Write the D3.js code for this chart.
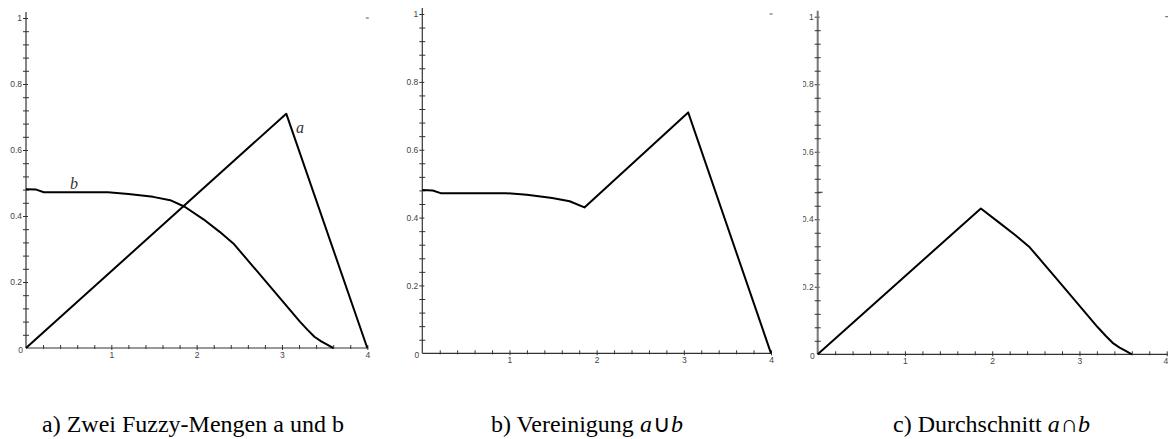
<!DOCTYPE html>
<html><head><meta charset="utf-8">
<script src="https://cdn.jsdelivr.net/npm/d3@7"></script>
<style>
body{margin:0;background:#fff;}
svg{display:block;}
</style>
</head><body>
<svg id="c" width="1168" height="439"></svg>
<script>
// ---- data ----
const yMajorTicks = [0.2, 0.4, 0.6, 0.8, 1];
const yMajorLabels = ["0.2", "0.4", "0.6", "0.8", "1"];
const xMajorTicks = [1, 2, 3, 4];
const xMajorLabels = ["1", "2", "3", "4"];
const yMinorTicks = [0.04,0.08,0.12,0.16,0.24,0.28,0.32,0.36,0.44,0.48,0.52,0.56,0.64,0.68,0.72,0.76,0.84,0.88,0.92,0.96];
const xMinorTicks = [0.2,0.4,0.6,0.8,1.2,1.4,1.6,1.8,2.2,2.4,2.6,2.8,3.2,3.4,3.6,3.8];

const aX = [0, 3.05, 4];
const aY = [0, 0.71, 0];
const bX = [0, 0.12, 0.21, 0.6, 0.96, 1.2, 1.49, 1.69, 1.86, 2.08, 2.27, 2.43, 2.8, 3.21, 3.3, 3.38, 3.46, 3.53, 3.6];
const bY = [0.481, 0.48, 0.472, 0.472, 0.472, 0.467, 0.458, 0.448, 0.428, 0.39, 0.352, 0.317, 0.205, 0.08, 0.055, 0.034, 0.02, 0.01, 0];
const unionX = [0, 0.12, 0.21, 0.6, 0.96, 1.2, 1.49, 1.69, 1.86, 3.05, 4];
const unionY = [0.481, 0.48, 0.472, 0.472, 0.472, 0.467, 0.458, 0.448, 0.43, 0.71, 0];
const interX = [0, 1.87, 2.08, 2.27, 2.43, 2.8, 3.21, 3.3, 3.38, 3.46, 3.53, 3.6];
const interY = [0, 0.432, 0.39, 0.352, 0.317, 0.205, 0.08, 0.055, 0.034, 0.02, 0.01, 0];

const captions = [
  [{t:"a) Zwei Fuzzy-Mengen a und b"}],
  [{t:"b) Vereinigung\u00A0"},{t:"a",i:true},{t:"\u222A"},{t:"b",i:true}],
  [{t:"c) Durchschnitt\u00A0"},{t:"a",i:true},{t:"\u2229"},{t:"b",i:true}]
];

// ---- layout ----
const panels = [
  {x0:26, x1:367.3, y0:348, y1:18, capX:42, axisCol:"#333", yAxisW:1.2,
   series:[{x:aX,y:aY},{x:bX,y:bY}], labels:[{t:"a",x:300,y:133},{t:"b",x:74,y:189}]},
  {x0:422.3, x1:771, y0:353.3, y1:14, capX:491, axisCol:"#333", yAxisW:1.2,
   series:[{x:unionX,y:unionY}], labels:[]},
  {x0:817.7, x1:1166.7, y0:354.3, y1:16.7, capX:893, axisCol:"#777", yAxisW:2,
   series:[{x:interX,y:interY}], labels:[], clipLeft:803, extraTick:0.48, lastEnd:true}
];

const svg = d3.select("#c");
const defs = svg.append("defs");

function styleTick(sel) {
  sel.attr("font-family","Liberation Sans").attr("font-size",8.5).attr("fill","#444");
}

panels.forEach((p, pi) => {
  const x = d3.scaleLinear().domain([0,4]).range([p.x0, p.x1]);
  const y = d3.scaleLinear().domain([0,1]).range([p.y0, p.y1]);
  const g = svg.append("g");
  let labG = g;
  if (p.clipLeft) {
    defs.append("clipPath").attr("id","clip"+pi).append("rect")
      .attr("x", p.clipLeft).attr("y", 0).attr("width", 1168).attr("height", 439);
    labG = g.append("g").attr("clip-path","url(#clip"+pi+")");
  }

  g.append("line").attr("x1", x(0)).attr("x2", x(0)).attr("y1", y(0)).attr("y2", y(1)-6)
    .attr("stroke", p.axisCol).attr("stroke-width", p.yAxisW);
  g.append("line").attr("x1", x(0)).attr("x2", x(4)+1).attr("y1", y(0)).attr("y2", y(0))
    .attr("stroke", "#333").attr("stroke-width", 1.2);

  const yMinor = d3.axisLeft(y).tickValues(yMinorTicks).tickSize(3).tickFormat("");
  const ym = g.append("g").attr("transform", `translate(${x(0)},0)`).call(yMinor);
  ym.select(".domain").remove();
  ym.selectAll("line").attr("x1", 3).attr("x2", -3).attr("stroke", "#333");

  const yMaj = d3.axisLeft(y).tickValues(yMajorTicks).tickSize(3)
    .tickFormat((d,i) => yMajorLabels[i]).tickPadding(1);
  const yg = labG.append("g").attr("transform", `translate(${x(0)},0)`).call(yMaj);
  yg.attr("font-family", null).attr("font-size", null);
  yg.select(".domain").remove();
  yg.selectAll("line").attr("x1", 2).attr("stroke", "#333");
  yg.selectAll("text").call(styleTick);

  const xMinor = d3.axisBottom(x).tickValues(xMinorTicks).tickSize(3).tickFormat("");
  const xm = g.append("g").attr("transform", `translate(0,${y(0)})`).call(xMinor);
  xm.select(".domain").remove();
  xm.selectAll("line").attr("y1", -3).attr("y2", 1).attr("stroke", "#333");

  const xMaj = d3.axisBottom(x).tickValues(xMajorTicks).tickSize(3)
    .tickFormat((d,i) => xMajorLabels[i]).tickPadding(1);
  const xg = g.append("g").attr("transform", `translate(0,${y(0)})`).call(xMaj);
  xg.attr("font-family", null).attr("font-size", null);
  xg.select(".domain").remove();
  xg.selectAll("line").attr("y1", -3).attr("y2", 2).attr("stroke", "#333");
  xg.selectAll("text").call(styleTick);
  if (p.lastEnd) {
    xg.selectAll("text").filter(d => d === 4).attr("text-anchor","end").attr("x", 1);
  }

  g.append("text").attr("x", x(0)-3).attr("y", y(0)+5)
    .attr("text-anchor","end").text("0").call(styleTick);

  g.append("line").attr("x1", x(4)-1.5).attr("x2", x(4)+1.5).attr("y1", y(1)).attr("y2", y(1))
    .attr("stroke", "#555").attr("stroke-width", 1);

  if (p.extraTick) {
    g.append("line").attr("x1", x(0)).attr("x2", x(0)+5).attr("y1", y(p.extraTick)).attr("y2", y(p.extraTick))
      .attr("stroke", "#333").attr("stroke-width", 1);
  }

  const line = d3.line().x(d => x(d[0])).y(d => y(d[1]));
  p.series.forEach(s => {
    const pts = s.x.map((v,i) => [v, s.y[i]]);
    g.append("path").attr("d", line(pts)).attr("fill","none")
      .attr("stroke","#000").attr("stroke-width",2).attr("stroke-linejoin","round");
  });

  p.labels.forEach(l => {
    g.append("text").attr("x", l.x).attr("y", l.y)
      .attr("text-anchor","middle")
      .attr("font-family","Liberation Serif").attr("font-style","italic")
      .attr("font-size", 16).attr("fill","#333").text(l.t);
  });

  let cx = p.capX;
  captions[pi].forEach(c => {
    const t = svg.append("text").attr("x", cx).attr("y", 432)
      .attr("font-family","Liberation Serif").attr("font-size",24).attr("fill","#000")
      .attr("font-style", c.i ? "italic" : "normal")
      .text(c.t);
    cx += t.node().getComputedTextLength() + (c.i ? 1 : 0);
  });
});
</script>
</body></html>
